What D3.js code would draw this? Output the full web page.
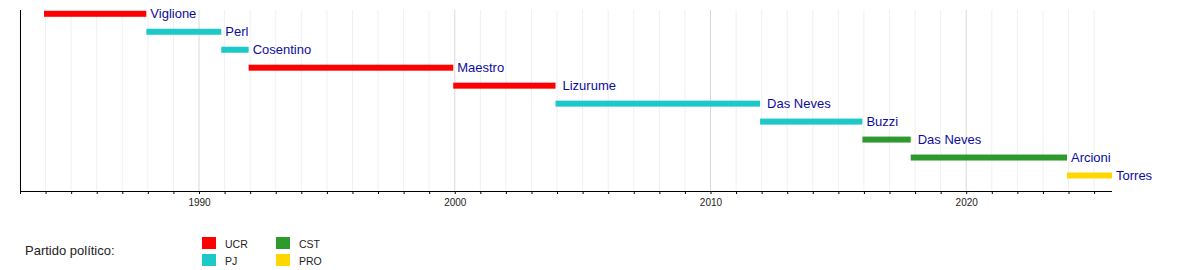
<!DOCTYPE html>
<html>
<meta charset="utf-8" />
<style>
  body { margin: 0; background: #fff; }
  text { font-family: "Liberation Sans", Arial, sans-serif; }
</style>
<body>
<script src="https://d3js.org/d3.v7.min.js"></script>
<script>
  // governors, in order
  let names = ["Viglione", "Perl", "Cosentino", "Maestro", "Lizurume",
    "Das Neves", "Buzzi", "Das Neves", "Arcioni", "Torres"];
  let starts = [1983.94, 1987.94, 1990.87, 1991.94, 1999.94,
    2003.94, 2011.94, 2015.94, 2017.83, 2023.94];
  let ends = [1987.94, 1990.87, 1991.94, 1999.94, 2003.94,
    2011.94, 2015.94, 2017.83, 2023.94, 2025.7];
  let parties = ["UCR", "PJ", "PJ", "UCR", "UCR", "PJ", "PJ", "CST", "CST", "PRO"];

  let partyNames = ["UCR", "PJ", "CST", "PRO"];
  let partyColors = ["#ff0000", "#1cc8c8", "#2e9a2e", "#ffd700"];

  let yearFrom = 1983, yearTo = 2025.7;
  let majorYears = [1990, 2000, 2010, 2020];

  let width = 1200, height = 270;

  let svg = d3.select("body").append("svg")
    .attr("width", width)
    .attr("height", height);

  let x = d3.scaleLinear().domain([yearFrom, yearTo]).range([20, 1112]);
  let y = d3.scalePoint().domain(d3.range(names.length)).range([13.8, 175.5]);
  let color = d3.scaleOrdinal().domain(partyNames).range(partyColors);

  let plotTop = 10, plotBottom = 191;
  let allYears = d3.range(1983, 2026);
  // some labels sit a little further from their bar
  let wideGap = [4, 5, 7];

  // grid
  svg.append("g")
    .selectAll("line")
    .data(allYears)
    .join("line")
    .attr("x1", d => x(d)).attr("x2", d => x(d))
    .attr("y1", plotTop).attr("y2", plotBottom)
    .attr("stroke", d => majorYears.includes(d) ? "#d8d8d8" : "#f0f0f0")
    .attr("stroke-width", 1);

  // bars
  svg.append("g")
    .selectAll("rect")
    .data(names)
    .join("rect")
    .attr("x", (d, i) => x(starts[i]))
    .attr("y", (d, i) => y(i) - 3)
    .attr("width", (d, i) => x(ends[i]) - x(starts[i]))
    .attr("height", 6)
    .attr("fill", (d, i) => color(parties[i]));

  // labels
  svg.append("g")
    .selectAll("text")
    .data(names)
    .join("text")
    .attr("x", (d, i) => x(ends[i]) + (wideGap.includes(i) ? 7 : 4))
    .attr("y", (d, i) => y(i) + 4.6)
    .attr("font-size", 13)
    .attr("fill", "#0c0ca0")
    .text(d => d);

  // axes
  svg.append("line")
    .attr("x1", 20.5).attr("x2", 20.5)
    .attr("y1", plotTop).attr("y2", plotBottom)
    .attr("stroke", "#000");

  let xAxis = d3.axisBottom(x)
    .tickValues(allYears)
    .tickSize(3)
    .tickFormat(d => majorYears.includes(d) ? d : "");

  let ax = svg.append("g")
    .attr("transform", "translate(0," + plotBottom + ")")
    .call(xAxis);
  ax.select(".domain").attr("d", "M20,0.5H" + x(yearTo));
  ax.selectAll(".tick line").attr("stroke", "#000");
  ax.selectAll("text")
    .attr("font-family", "Liberation Sans, Arial, sans-serif")
    .attr("font-size", 10)
    .attr("fill", "#222")
    .attr("dy", "0.9em");

  // legend
  svg.append("text")
    .attr("x", 25).attr("y", 255)
    .attr("font-size", 13)
    .attr("fill", "#222")
    .text("Partido político:");

  let lg = svg.append("g")
    .selectAll("g")
    .data(partyNames)
    .join("g")
    .attr("transform", (d, i) =>
      "translate(" + (202 + Math.floor(i / 2) * 74) + "," + (237 + (i % 2) * 17) + ")");
  lg.append("rect")
    .attr("width", 14).attr("height", 12)
    .attr("fill", d => color(d));
  lg.append("text")
    .attr("x", 23).attr("y", 10.5)
    .attr("font-size", 10.5)
    .attr("fill", "#222")
    .text(d => d);
</script>
</body>
</html>
